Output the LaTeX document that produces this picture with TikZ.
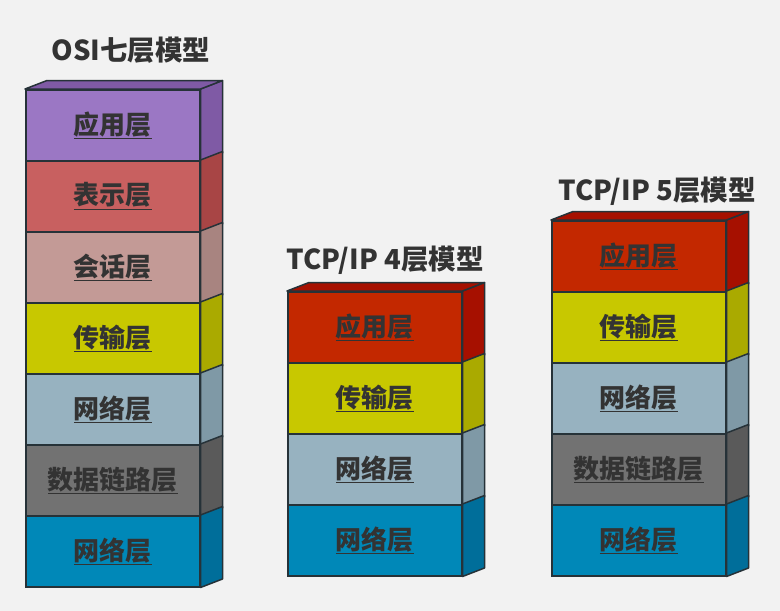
\documentclass[tikz,border=0pt]{standalone}
\usepackage{fontspec}
\newfontfamily\cjk{Noto Sans CJK SC}
\usetikzlibrary{positioning}
\definecolor{bg}{HTML}{F2F2F2}
\definecolor{edge}{HTML}{263238}
\definecolor{ink}{HTML}{333333}
\definecolor{appf}{HTML}{9B77C4}
\definecolor{apps}{HTML}{7F5AA5}
\definecolor{presf}{HTML}{C86060}
\definecolor{press}{HTML}{A84545}
\definecolor{sessf}{HTML}{C39A96}
\definecolor{sesss}{HTML}{A88480}
\definecolor{transf}{HTML}{C8C800}
\definecolor{transs}{HTML}{AAAA00}
\definecolor{netf}{HTML}{97B2C0}
\definecolor{nets}{HTML}{7F99A6}
\definecolor{linkf}{HTML}{727272}
\definecolor{links}{HTML}{5A5A5A}
\definecolor{physf}{HTML}{0088B8}
\definecolor{physs}{HTML}{006E9A}
\definecolor{tappf}{HTML}{C32800}
\definecolor{tapps}{HTML}{A61000}
\tikzset{
  face/.style={draw=edge, line width=1.5pt, inner sep=0pt, minimum width=174pt,
    minimum height=71pt, anchor=north west, text=ink, font=\cjk\bfseries\fontsize{26}{30}\selectfont},
  side/.style={draw=edge, line width=1.5pt, line join=round},
  title/.style={text=ink, font=\cjk\bfseries\fontsize{27.5}{32}\selectfont}
}
\newcommand{\dx}{22}
\newcommand{\dy}{-8.5}
% name, left, top, front colour, side colour, label
\newcommand{\layer}[6]{
\node[face, fill=#4] (#1) at (#2, #3) {\raisebox{-2pt}{\underline{#6}}};
\filldraw[side, fill=#5] (#1.north east) -- ++(\dx,\dy) -- ([shift={(\dx,\dy)}]#1.south east) -- (#1.south east) -- cycle;
}
\newcommand{\lid}[2]{
\filldraw[side, fill=#2] (#1.north west) -- ++(\dx,\dy) -- ([shift={(\dx,\dy)}]#1.north east) -- (#1.north east) -- cycle;
}

\begin{document}
\begin{tikzpicture}[x=1pt, y=-1pt]
\useasboundingbox[fill=bg] (0,0) rectangle (780,611);

% OSI
\layer{osi1}{25}{89}{appf}{apps}{应用层}
\layer{osi2}{25}{160}{presf}{press}{表示层}
\layer{osi3}{25}{231}{sessf}{sesss}{会话层}
\layer{osi4}{25}{302}{transf}{transs}{传输层}
\layer{osi5}{25}{373}{netf}{nets}{网络层}
\layer{osi6}{25}{444}{linkf}{links}{数据链路层}
\layer{osi7}{25}{515}{physf}{physs}{网络层}
\lid{osi1}{apps}

% TCP/IP 4
\layer{tcpa1}{287}{291}{tappf}{tapps}{应用层}
\layer{tcpa2}{287}{362}{transf}{transs}{传输层}
\layer{tcpa3}{287}{433}{netf}{nets}{网络层}
\layer{tcpa4}{287}{504}{physf}{physs}{网络层}
\lid{tcpa1}{tapps}

% TCP/IP 5
\layer{tcpb1}{551}{220}{tappf}{tapps}{应用层}
\layer{tcpb2}{551}{291}{transf}{transs}{传输层}
\layer{tcpb3}{551}{362}{netf}{nets}{网络层}
\layer{tcpb4}{551}{433}{linkf}{links}{数据链路层}
\layer{tcpb5}{551}{504}{physf}{physs}{网络层}
\lid{tcpb1}{tapps}

% titles
\node[title] (osititle) at (131,50) {OSI七层模型};
\node[title] (tcpatitle) at (385,260) {TCP/IP 4层模型};
\node[title] (tcpbtitle) at (657,191) {TCP/IP 5层模型};
\end{tikzpicture}
\end{document}
